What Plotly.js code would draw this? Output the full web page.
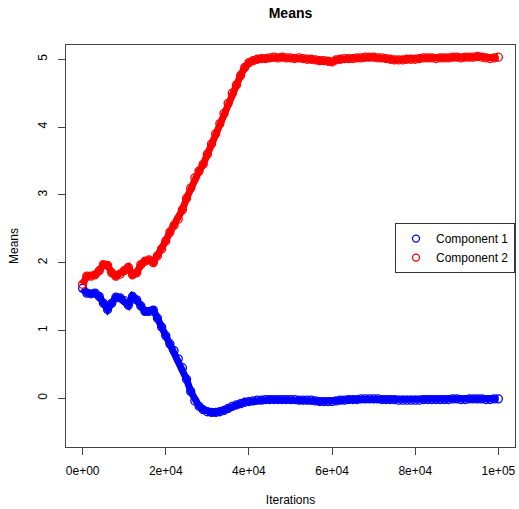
<!DOCTYPE html>
<html>
<head>
<meta charset="utf-8">
<script src="https://cdn.plot.ly/plotly-3.0.1.min.js"></script>
<style>html,body{margin:0;padding:0;background:#fff;}#chart{width:519px;height:509px;}</style>
</head>
<body>
<div id="chart"></div>
<script>
const iterThousands = [0,1,2,3,4,5,6,7,8,9,10,11,12,13,14,15,16,17,18,19,20,21,22,23,24,25,26,27,28,29,30,31,32,33,34,35,36,37,38,39,40,41,42,43,44,45,46,47,48,49,50,51,52,53,54,55,56,57,58,59,60,61,62,63,64,65,66,67,68,69,70,71,72,73,74,75,76,77,78,79,80,81,82,83,84,85,86,87,88,89,90,91,92,93,94,95,96,97,98,99,100];

const component1 = [1.62,1.55,1.54,1.55,1.50,1.40,1.31,1.40,1.49,1.48,1.44,1.37,1.50,1.45,1.36,1.28,1.28,1.30,1.18,1.05,
  0.92,0.80,0.70,0.58,0.45,0.28,0.10,-0.04,-0.12,-0.17,-0.20,-0.21,-0.21,-0.20,-0.18,-0.15,-0.12,-0.10,-0.08,-0.06,
  -0.05,-0.04,-0.03,-0.03,-0.02,-0.02,-0.02,-0.02,-0.02,-0.02,-0.02,-0.02,-0.03,-0.03,-0.03,-0.03,-0.04,-0.05,-0.05,-0.05,
  -0.05,-0.04,-0.03,-0.03,-0.02,-0.02,-0.02,-0.01,-0.01,-0.01,-0.01,-0.01,-0.02,-0.02,-0.02,-0.02,-0.03,-0.03,-0.03,-0.03,
  -0.03,-0.03,-0.02,-0.02,-0.02,-0.02,-0.02,-0.02,-0.02,-0.01,-0.01,-0.02,-0.02,-0.01,-0.01,-0.01,-0.01,-0.02,-0.02,-0.01,-0.01];

const component2 = [1.68,1.80,1.80,1.82,1.88,1.97,1.96,1.85,1.80,1.83,1.88,1.93,1.82,1.85,1.97,2.02,2.04,2.00,2.10,2.20,
  2.32,2.45,2.55,2.64,2.78,2.95,3.10,3.25,3.35,3.45,3.60,3.75,3.90,4.05,4.20,4.35,4.50,4.62,4.76,4.88,
  4.95,4.98,5.00,5.01,5.01,5.02,5.03,5.02,5.03,5.02,5.02,5.01,5.02,5.01,5.00,5.00,4.99,4.98,4.98,4.97,
  4.96,4.99,5.00,5.01,5.01,5.01,5.02,5.02,5.03,5.03,5.03,5.02,5.02,5.01,5.00,4.99,4.99,4.99,5.00,5.00,
  5.00,5.01,5.02,5.02,5.02,5.01,5.02,5.02,5.02,5.03,5.03,5.02,5.03,5.03,5.03,5.04,5.03,5.02,5.01,5.02,5.03];

const seriesNames = ["Component 1", "Component 2"];
const seriesColors = ["#0000FF", "#FF0000"];
const xTickVals = [0, 20000, 40000, 60000, 80000, 100000];
const xTickText = ["0e+00", "2e+04", "4e+04", "6e+04", "8e+04", "1e+05"];
const yTickVals = [0, 1, 2, 3, 4, 5];
const yTickText = ["0", "1", "2", "3", "4", "5"];

const iterations = iterThousands.map(k => k * 1000);
const FONT = "Liberation Sans, Arial, Helvetica, sans-serif";

const dataSeries = [component1, component2];
const traces = [];
dataSeries.forEach((vals, i) => {
  traces.push({
    x: iterations, y: vals, type: "scatter", mode: "lines+markers",
    line: {color: seriesColors[i], width: 7},
    marker: {symbol: "circle-open", size: 8, color: seriesColors[i], line: {width: 1.3}},
    showlegend: false, hoverinfo: "skip", cliponaxis: true
  });
});
// legend-only entries
seriesNames.forEach((name, i) => {
  traces.push({
    x: [null], y: [null], type: "scatter", mode: "markers", name: name,
    marker: {symbol: "circle-open", size: 7, color: seriesColors[i], line: {width: 1.3}},
    showlegend: true
  });
});

const axisCommon = {
  automargin: false,
  showgrid: false, zeroline: false, showline: true, mirror: true,
  linecolor: "#444", linewidth: 1, ticks: "outside", ticklen: 7, tickwidth: 1, tickcolor: "#444",
  tickfont: {family: FONT, size: 12, color: "#000"}
};

const layout = {
  width: 519, height: 509,
  margin: {l: 66, r: 4, t: 45, b: 62, autoexpand: false},
  paper_bgcolor: "#fff", plot_bgcolor: "#fff",
  font: {family: FONT, color: "#000"},
  title: {text: "Means", font: {family: FONT, size: 14, weight: "bold", color: "#000"},
          x: 0.5, xref: "paper", y: 1 - 13/509, yref: "container", yanchor: "middle", automargin: false},
  xaxis: Object.assign({}, axisCommon, {
    range: [-4000, 104000], tickmode: "array", tickvals: xTickVals, ticktext: xTickText,
    ticklabelstandoff: 6,
    title: {text: "Iterations", font: {family: FONT, size: 12}, standoff: 18}
  }),
  yaxis: Object.assign({}, axisCommon, {
    range: [-0.72, 5.21], tickmode: "array", tickvals: yTickVals, ticktext: yTickText,
    tickangle: -90, ticklabelstandoff: 6,
    title: {text: "Means", font: {family: FONT, size: 12}, standoff: 15}
  }),
  legend: {
    x: 1, y: 0.557, xanchor: "right", yanchor: "top",
    bgcolor: "#fff", bordercolor: "#333", borderwidth: 1,
    font: {family: FONT, size: 12, color: "#000"},
    itemwidth: 30, tracegroupgap: 0
  },
  showlegend: true
};

Plotly.newPlot("chart", traces, layout, {staticPlot: true, displayModeBar: false});
</script>
</body>
</html>
